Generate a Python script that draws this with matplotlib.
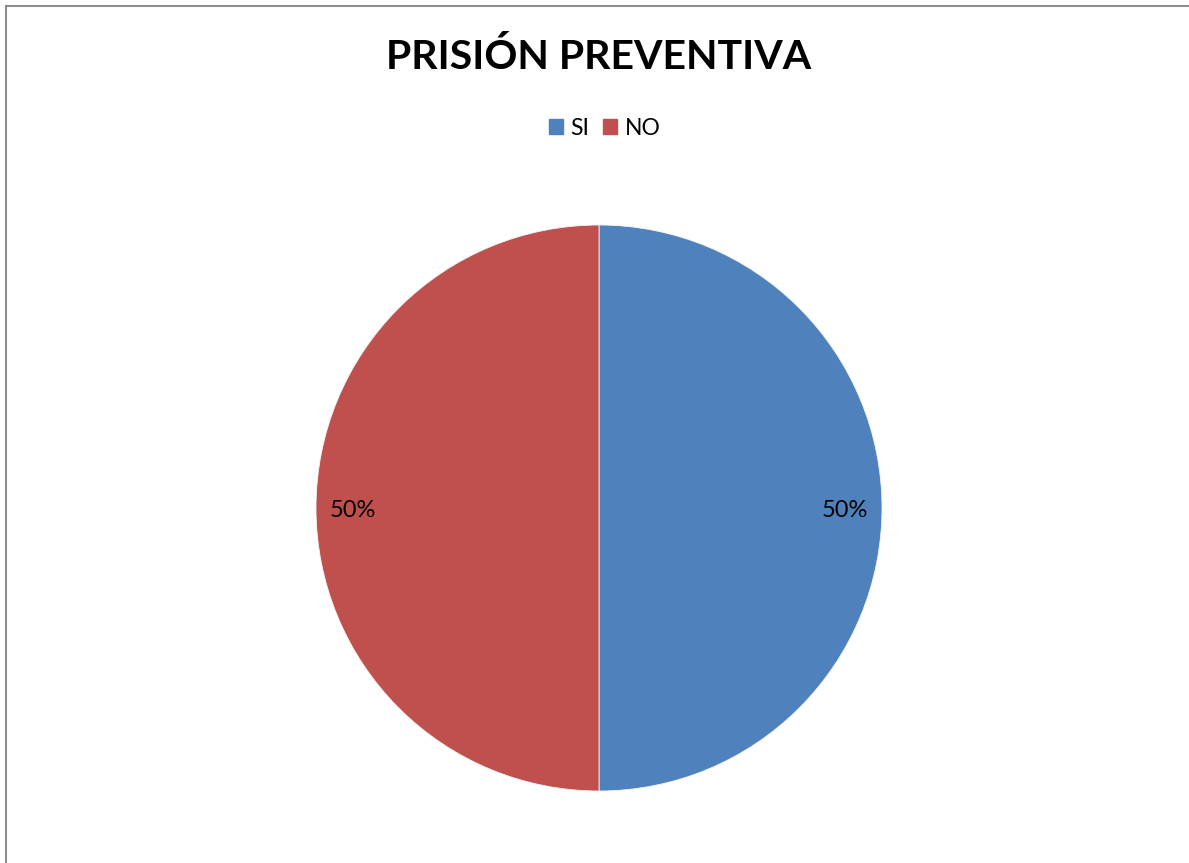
import matplotlib.pyplot as plt
from matplotlib.lines import Line2D

# data
labels = ["SI", "NO"]
values = [50, 50]
colors = ["#4F81BD", "#C0504D"]
title = "PRISIÓN PREVENTIVA"

plt.rcParams['font.family'] = ['Lato', 'DejaVu Sans']

W, H = 1189, 863
fig = plt.figure(figsize=(W / 100, H / 100), dpi=100)

# pie centre and radius in pixels
cx, cy, r = 599, 508, 283
ax = fig.add_axes([(cx - r) / W, (H - cy - r) / H, 2 * r / W, 2 * r / H])
wedges, texts, autotexts = ax.pie(
    values, colors=colors, startangle=90, counterclock=False,
    autopct='%1.0f%%', pctdistance=0.87,
    wedgeprops=dict(edgecolor='#f2f2f2', linewidth=0.6),
    textprops=dict(fontsize=17, color='black'))
for t in autotexts:
    t.set_y(t.get_position()[1] - 0.01)
ax.set_xlim(-1, 1)
ax.set_ylim(-1, 1)
ax.set_aspect('equal')
ax.axis('off')

fig.text(cx / W, 1 - 57 / H, title, ha='center', va='center',
         fontsize=29.5, fontweight='bold')

handles = [plt.Rectangle((0, 0), 1, 1, color=c) for c in colors]
fig.legend(handles, labels, loc='center', bbox_to_anchor=(605 / W, 1 - 128 / H),
           ncol=2, frameon=False, fontsize=16.5, handlelength=0.6, handleheight=0.6,
           handletextpad=0.35, columnspacing=0.6, borderpad=0, borderaxespad=0)

# chart frame (left and top edges visible)
fig.add_artist(Line2D([6 / W, 6 / W], [0, 1 - 6 / H], color='#8c8c8c', lw=1.5))
fig.add_artist(Line2D([6 / W, 1], [1 - 6 / H, 1 - 6 / H], color='#8c8c8c', lw=1.5))

fig.savefig("out.png", dpi=100)
